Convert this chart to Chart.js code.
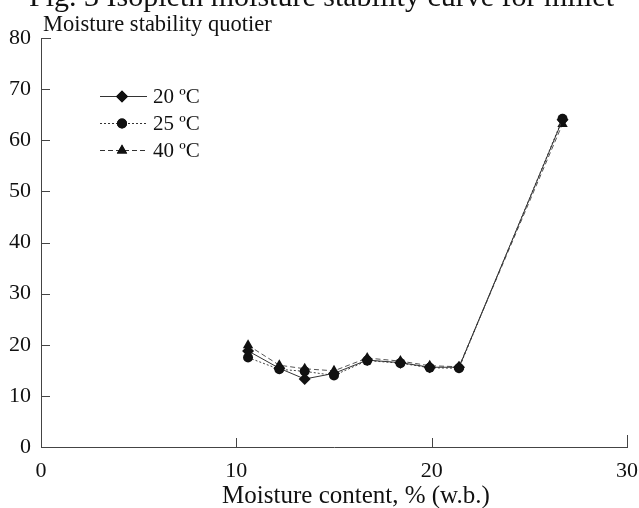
<!DOCTYPE html>
<html>
<head>
<meta charset="utf-8">
<script src="https://cdn.jsdelivr.net/npm/chart.js@4/dist/chart.umd.min.js"></script>
<style>
  html, body { margin: 0; padding: 0; background: #fff; }
  #wrap { width: 639px; height: 508px; }
</style>
</head>
<body>
<div id="wrap"><canvas id="chart" width="639" height="508"></canvas></div>
<script>
// data
const moisture = [10.6, 12.2, 13.5, 15.0, 16.7, 18.4, 19.9, 21.4, 26.7];
const temp20 = [18.8, 15.4, 13.3, 14.4, 17.0, 16.5, 15.6, 15.6, 64.0];
const temp25 = [17.5, 15.2, 14.8, 14.0, 16.9, 16.4, 15.5, 15.4, 64.2];
const temp40 = [19.9, 16.0, 15.3, 14.9, 17.4, 16.8, 15.9, 15.7, 63.2];
const seriesLabels = ['20 ºC', '25 ºC', '40 ºC'];
const xTicks = [0, 10, 20, 30];
const yTicks = [0, 10, 20, 30, 40, 50, 60, 70, 80];

const figTitle = 'Fig. 3 Isopleth moisture stability curve for millet';
const yTitle = 'Moisture stability quotier';
const xTitle = 'Moisture content, % (w.b.)';

const serif = "'Liberation Serif', 'DejaVu Serif', serif";
const ink = '#111';

function pts(ys) {
    return moisture.map((x, i) => ({ x: x, y: ys[i] }));
}

// inward tick marks, titles and the line+marker legend
const paperLook = {
    id: 'paperLook',
    afterDraw(chart) {
        const ctx = chart.ctx;
        const xs = chart.scales.x, ys = chart.scales.y;
        const area = chart.chartArea;
        ctx.save();
        ctx.strokeStyle = '#444';
        ctx.lineWidth = 1;
        yTicks.forEach(v => {
            if (v === 0) return;
            const py = Math.round(ys.getPixelForValue(v)) + 0.5;
            ctx.beginPath();
            ctx.moveTo(area.left, py);
            ctx.lineTo(area.left + (v === 80 ? 10 : 9), py);
            ctx.stroke();
        });
        xTicks.forEach(v => {
            if (v === 0) return;
            const px = Math.round(xs.getPixelForValue(v)) + 0.5;
            ctx.beginPath();
            ctx.moveTo(px, area.bottom);
            ctx.lineTo(px, area.bottom - (v === 30 ? 12 : 9));
            ctx.stroke();
        });

        ctx.fillStyle = ink;
        ctx.textBaseline = 'alphabetic';
        ctx.font = '30px ' + serif;
        ctx.textAlign = 'right';
        ctx.fillText(figTitle, 614, 6);
        ctx.font = '22.5px ' + serif;
        ctx.textAlign = 'left';
        ctx.fillText(yTitle, 43, 31);
        ctx.font = '25px ' + serif;
        ctx.textAlign = 'center';
        ctx.fillText(xTitle, 356, 503);

        // legend
        const rows = [96, 123, 150];
        ctx.textAlign = 'left';
        chart.data.datasets.forEach((ds, i) => {
            const y = rows[i] + 0.5;
            ctx.strokeStyle = '#333';
            ctx.setLineDash(ds.borderDash || []);
            ctx.beginPath();
            ctx.moveTo(100, y);
            ctx.lineTo(147, y);
            ctx.stroke();
            ctx.setLineDash([]);
            Chart.helpers.drawPoint(ctx, {
                pointStyle: ds.pointStyle, radius: ds.pointRadius, borderWidth: 0, rotation: 0
            }, 122, y);
            ctx.fillStyle = ink;
            ctx.fill();
            ctx.font = '21px ' + serif;
            ctx.textBaseline = 'middle';
            ctx.fillText(ds.label, 153, rows[i] + 1);
        });
        ctx.restore();
    }
};

new Chart(document.getElementById('chart'), {
    type: 'scatter',
    data: {
        datasets: [
            { label: seriesLabels[0], data: pts(temp20), showLine: true, borderColor: '#333', borderWidth: 1,
              pointStyle: 'rectRot', pointRadius: 6, backgroundColor: ink, pointBackgroundColor: ink, pointBorderWidth: 0 },
            { label: seriesLabels[1], data: pts(temp25), showLine: true, borderColor: '#444', borderWidth: 1, borderDash: [2, 2],
              pointStyle: 'circle', pointRadius: 5, backgroundColor: ink, pointBackgroundColor: ink, pointBorderWidth: 0 },
            { label: seriesLabels[2], data: pts(temp40), showLine: true, borderColor: '#555', borderWidth: 1, borderDash: [5, 3],
              pointStyle: 'triangle', pointRadius: 6, backgroundColor: ink, pointBackgroundColor: ink, pointBorderWidth: 0 }
        ]
    },
    options: {
        responsive: false,
        animation: false,
        layout: { padding: { top: 38, right: 12, left: 0, bottom: 0 } },
        plugins: { legend: { display: false }, tooltip: { enabled: false } },
        scales: {
            x: {
                type: 'linear', min: 0, max: 30,
                afterBuildTicks: s => { s.ticks = xTicks.map(v => ({ value: v })); },
                afterFit: s => { s.height = 61; s.paddingLeft = 0; s.paddingRight = 0; },
                grid: { drawOnChartArea: false, drawTicks: false },
                border: { color: '#444', width: 1 },
                ticks: { color: ink, padding: 11, font: { family: serif, size: 22 } }
            },
            y: {
                min: 0, max: 80,
                afterBuildTicks: s => { s.ticks = yTicks.map(v => ({ value: v })); },
                afterFit: s => { s.width = 41; s.paddingTop = 0; s.paddingBottom = 0; },
                grid: { drawOnChartArea: false, drawTicks: false },
                border: { color: '#444', width: 1 },
                ticks: { color: ink, padding: 10, font: { family: serif, size: 22 } }
            }
        }
    },
    plugins: [paperLook]
});
</script>
</body>
</html>
